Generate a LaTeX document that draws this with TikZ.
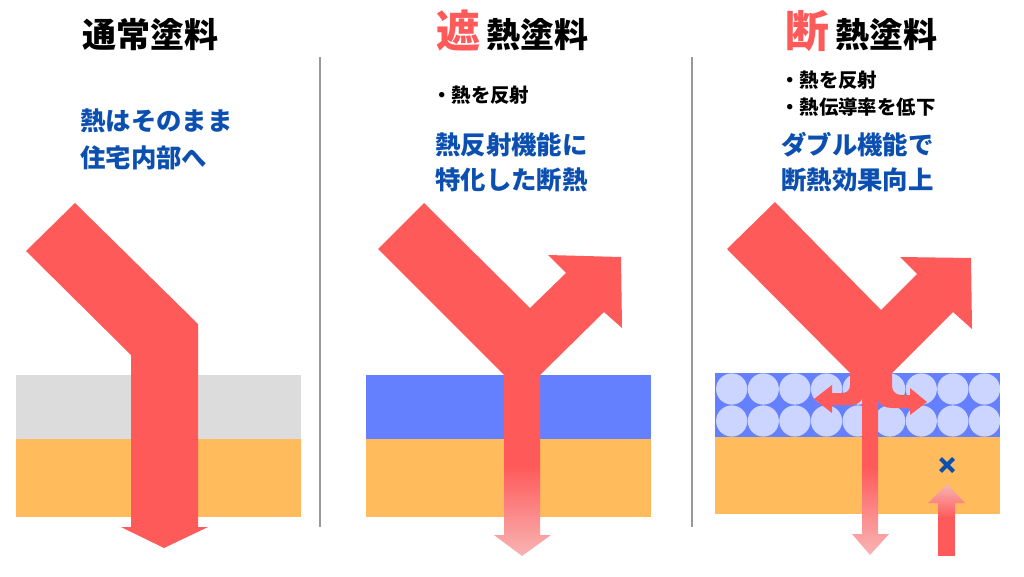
\documentclass[tikz,border=0pt]{standalone}
\usepackage{fontspec}
\newfontfamily\jp[BoldFont={Noto Sans CJK JP Black}]{Noto Sans CJK JP}
\usetikzlibrary{shadings}
\definecolor{heat}{HTML}{FF5A5A}
\definecolor{pale}{HTML}{F8B4B4}
\definecolor{navy}{HTML}{0B4FB0}
\definecolor{paint}{HTML}{6580FF}
\definecolor{wall}{HTML}{FFBB5C}
\definecolor{plain}{HTML}{DCDCDC}
\definecolor{bead}{HTML}{CCD5FF}
\definecolor{rule}{HTML}{999999}
\tikzset{
  txt/.style={inner sep=0pt,anchor=west},
  ttl/.style={txt,font=\jp\bfseries\fontsize{34}{34}\selectfont,text=black,text height=29.9pt,text depth=4.1pt},
  big/.style={txt,font=\jp\bfseries\fontsize{44}{44}\selectfont,text=heat,text height=38.7pt,text depth=5.3pt},
  note/.style={txt,font=\jp\bfseries\fontsize{19.4}{20}\selectfont,text=black,text height=17pt,text depth=2.3pt},
  lead/.style={txt,font=\jp\bfseries\fontsize{25.4}{26}\selectfont,text=navy,text height=22.4pt,text depth=3pt},
  heatfill/.style={fill=heat,draw=none},
  sep/.style={draw=rule,line width=2pt},
}
\begin{document}
\begin{tikzpicture}[x=1pt,y=-1pt]
\useasboundingbox (0,0) rectangle (1024,576);
% separators
\draw[sep] (320,57) -- (320,527);
\draw[sep] (691.5,57) -- (691.5,527);
% layers
\fill[plain] (16,375) rectangle (301,439);
\fill[wall]  (16,439) rectangle (301,517);
\fill[paint] (366,375) rectangle (651,439);
\fill[wall]  (366,439) rectangle (651,517);
\fill[paint] (715,373) rectangle (1000,437);
\fill[wall]  (715,437) rectangle (1000,514);
\foreach \i in {0,...,8}{
  \fill[bead] (731.7+\i*31.6,389) circle (15.6);
  \fill[bead] (731.7+\i*31.6,421) circle (15.6);
}
% left arrow
\fill[heatfill] (75,203) -- (198,324) -- (198,527) -- (208,527) -- (164,548) -- (121,527) -- (131,527) -- (131,355) -- (26,251) -- cycle;
% middle arrow
\fill[heatfill] (424,203) -- (530,308) -- (566,273) -- (548,255) -- (621,257) -- (622,328) -- (604,312) -- (540,375) -- (540,468) -- (504,468) -- (504,375) -- (378,249) -- cycle;
\shade[top color=heat,bottom color=pale] (504,467) -- (540,467) -- (540,535) -- (551,535) -- (522,556) -- (494,535) -- (504,535) -- cycle;
% right arrow
\fill[heatfill] (775,202) -- (881,310) -- (917,274) -- (900,257) -- (971,258) -- (972,329) -- (953,312) -- (892,373) -- (892,387)
  .. controls (893,393) and (897,395) .. (902,395) -- (910,395) -- (910,388) -- (927,402) -- (910,415) -- (910,408) -- (892,408)
  .. controls (885,408) and (880,405) .. (878,400) -- (878,468) -- (862,468) -- (862,399)
  .. controls (860,403) and (856,405) .. (850,405) -- (832,405) -- (832,413) -- (814,399) -- (832,385) -- (832,393) -- (842,393)
  .. controls (847,393) and (850,390) .. (850,385) -- (850,373) -- (727,249) -- cycle;
\shade[top color=heat,bottom color=pale] (862,467) -- (878,467) -- (878,534) -- (889,534) -- (870,555) -- (852,534) -- (862,534) -- cycle;
\shade[top color=pale,bottom color=heat] (947,484) -- (965,503) -- (955,503) -- (955,518) -- (938,518) -- (938,503) -- (928,503) -- cycle;
\fill[heatfill] (938,517) rectangle (955,556);
% cross
\draw[navy,line width=4pt] (940.5,458.5) -- (953.5,471.5) (953.5,458.5) -- (940.5,471.5);
% titles
\node[ttl] (t1) at (82,35) {通常塗料};
\node[big] (t2a) at (436,31) {遮};
\node[ttl] (t2b) at (486,35) {熱塗料};
\node[big] (t3a) at (785,31) {断};
\node[ttl] (t3b) at (835,35) {熱塗料};
% notes
\node[note] (n2) at (432,95) {・熱を反射};
\node[note] (n3a) at (780,80) {・熱を反射};
\node[note] (n3b) at (780,107) {・熱伝導率を低下};
% leads
\node[lead] (l1a) at (80,121) {熱はそのまま};
\node[lead] (l1b) at (80,158) {住宅内部へ};
\node[lead] (l2a) at (435,145) {熱反射機能に};
\node[lead] (l2b) at (435,180) {特化した断熱};
\node[lead] (l3a) at (781,145) {ダブル機能で};
\node[lead] (l3b) at (781,180) {断熱効果向上};
\end{tikzpicture}
\end{document}
